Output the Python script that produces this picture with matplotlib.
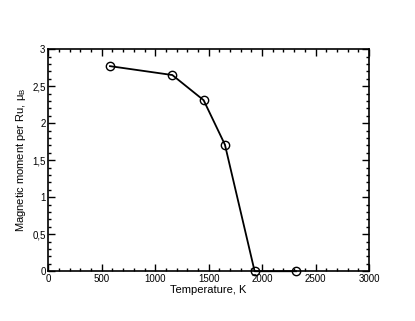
import matplotlib
matplotlib.use('Agg')
import matplotlib.pyplot as plt
from matplotlib.ticker import MultipleLocator, FuncFormatter

plt.rcParams['font.family'] = ['Liberation Sans', 'DejaVu Sans']

# temperature (K) and magnetic moment per Ru (mu_B)
temperature = [577, 1160, 1453, 1652, 1930, 2317]
moment = [2.77, 2.65, 2.31, 1.71, 0.0, 0.0]

fig = plt.figure(figsize=(4.15, 3.21), dpi=100)
ax = fig.add_axes([0.1164, 0.155, 0.7728, 0.692])

ax.plot(temperature, moment, color='black', linewidth=1.3, marker='o',
        markersize=6, markerfacecolor='none', markeredgecolor='black',
        markeredgewidth=1.0, clip_on=False, zorder=3)

ax.set_xlim(0, 3000)
ax.set_ylim(0, 3)

ax.xaxis.set_major_locator(MultipleLocator(500))
ax.xaxis.set_minor_locator(MultipleLocator(100))
ax.yaxis.set_major_locator(MultipleLocator(0.5))
ax.yaxis.set_minor_locator(MultipleLocator(0.1))

# decimal comma on the y axis
def comma(v, pos):
    return ('%g' % v).replace('.', ',')

ax.yaxis.set_major_formatter(FuncFormatter(comma))

ax.tick_params(which='both', direction='in', top=True, right=True,
               labelsize=7, pad=2, width=1)
ax.tick_params(which='major', length=5)
ax.tick_params(which='minor', length=2.5)
for sp in ax.spines.values():
    sp.set_linewidth(1.2)

ax.set_xlabel('Temperature, K', fontsize=8, labelpad=1)
ax.set_ylabel(r'Magnetic moment per Ru, $\mathregular{\mu_B}$', fontsize=8, labelpad=3)

fig.savefig('out.png', dpi=100)
